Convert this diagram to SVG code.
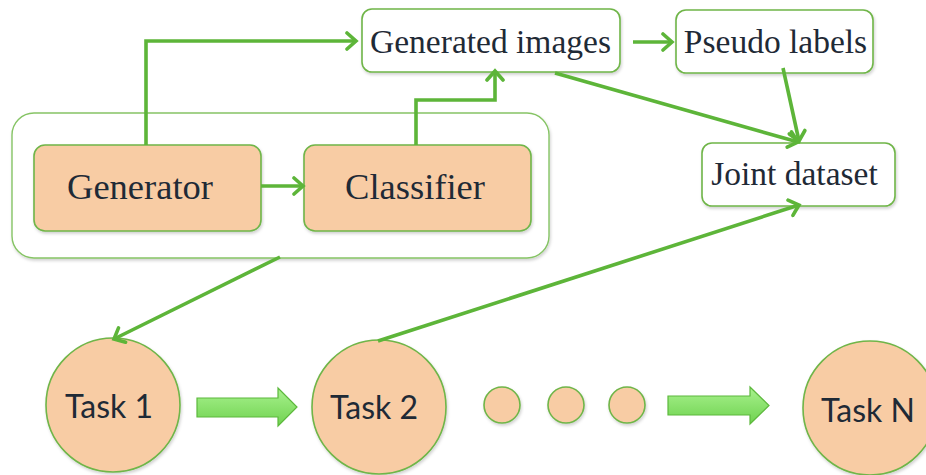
<svg xmlns="http://www.w3.org/2000/svg" width="926" height="475" viewBox="0 0 926 475">
  <style>
    .box { fill: #ffffff; stroke: #6fb548; stroke-width: 1.6; }
    .core { fill: #f8cca4; stroke: #6fb548; stroke-width: 1.6; }
    .task { fill: #f8cca4; stroke: #6fb548; stroke-width: 1.6; }
    .frame { fill: #ffffff; stroke: #86c465; stroke-width: 1.4; }
    .link { fill: none; stroke: #5db539; stroke-width: 3.6; stroke-linejoin: miter; }
    .block { fill: url(#blockFill); stroke: #5cb83c; stroke-width: 1.2; }
  </style>
  <defs>
    <marker id="head" markerUnits="userSpaceOnUse" markerWidth="20" markerHeight="20" refX="16" refY="10" orient="auto">
      <path d="M7,2 L16,10 L7,18" fill="none" stroke="#5db539" stroke-width="3.6" stroke-linecap="round"/>
    </marker>
    <linearGradient id="blockFill" x1="0" y1="0" x2="0" y2="1">
      <stop offset="0" stop-color="#a8f28e"/>
      <stop offset="1" stop-color="#6fd24f"/>
    </linearGradient>
    <filter id="shadow" x="-10%" y="-10%" width="120%" height="130%">
      <feDropShadow dx="1" dy="2" stdDeviation="1.5" flood-color="#000000" flood-opacity="0.18"/>
    </filter>
  </defs>

  <!-- model frame holding generator and classifier -->
  <g id="model-frame">
    <rect class="frame" x="12" y="113" width="537" height="145" rx="22" filter="url(#shadow)"/>
  </g>

  <!-- pipeline boxes with serif labels -->
  <g font-family="Liberation Serif, Tinos, serif" fill="#1f2a36" text-anchor="middle">
    <g id="generator">
      <rect class="core" x="34" y="145" width="227" height="86" rx="11" filter="url(#shadow)"/>
      <text x="140" y="199" font-size="36.5">Generator</text>
    </g>
    <g id="classifier">
      <rect class="core" x="304" y="145" width="227" height="86" rx="11" filter="url(#shadow)"/>
      <text x="415" y="199" font-size="36.5">Classifier</text>
    </g>
    <g id="generated-images">
      <rect class="box" x="362" y="9" width="258" height="63" rx="10" filter="url(#shadow)"/>
      <text x="490.5" y="53" font-size="33.5">Generated images</text>
    </g>
    <g id="pseudo-labels">
      <rect class="box" x="676" y="10" width="197" height="63" rx="10" filter="url(#shadow)"/>
      <text x="775.5" y="53" font-size="33.5">Pseudo labels</text>
    </g>
    <g id="joint-dataset">
      <rect class="box" x="702" y="143" width="193" height="63" rx="10" filter="url(#shadow)"/>
      <text x="794.5" y="185" font-size="33.5">Joint dataset</text>
    </g>
  </g>

  <!-- task sequence -->
  <g font-family="Lato, 'Open Sans', sans-serif" fill="#1f2a36" text-anchor="middle">
    <g id="task-1">
      <circle class="task" cx="113" cy="405" r="67" filter="url(#shadow)"/>
      <text x="109" y="418" font-size="32">Task 1</text>
    </g>
    <g id="task-2">
      <circle class="task" cx="379" cy="407" r="67" filter="url(#shadow)"/>
      <text x="374" y="419" font-size="32">Task 2</text>
    </g>
    <g id="ellipsis">
      <circle class="task" cx="502" cy="405" r="18" filter="url(#shadow)"/>
      <circle class="task" cx="566" cy="405" r="18" filter="url(#shadow)"/>
      <circle class="task" cx="627" cy="405" r="18" filter="url(#shadow)"/>
    </g>
    <g id="task-n">
      <circle class="task" cx="870" cy="408" r="67" filter="url(#shadow)"/>
      <text x="868" y="422" font-size="32">Task N</text>
    </g>
  </g>

  <g id="connectors">
    <path class="link" d="M146,145 V41 H356" marker-end="url(#head)"/>
    <path class="link" d="M416,145 V100 H495 V71" marker-end="url(#head)"/>
    <path class="link" d="M261,186 H303" marker-end="url(#head)"/>
    <path class="link" d="M633,42 H672" marker-end="url(#head)"/>
    <path class="link" d="M555,73 L798,142" marker-end="url(#head)"/>
    <path class="link" d="M783,68 L799,141" marker-end="url(#head)"/>
    <path class="link" d="M280,257 L114,339" marker-end="url(#head)"/>
    <path class="link" d="M378,341 L799,205" marker-end="url(#head)"/>
    <!-- block arrows between tasks -->
    <path class="block" d="M197,398 H278 V388 L297,407 L278,426 V417 H197 Z"/>
    <path class="block" d="M668,396 H750 V387 L769,405.5 L750,424 V415 H668 Z"/>
  </g>
</svg>
